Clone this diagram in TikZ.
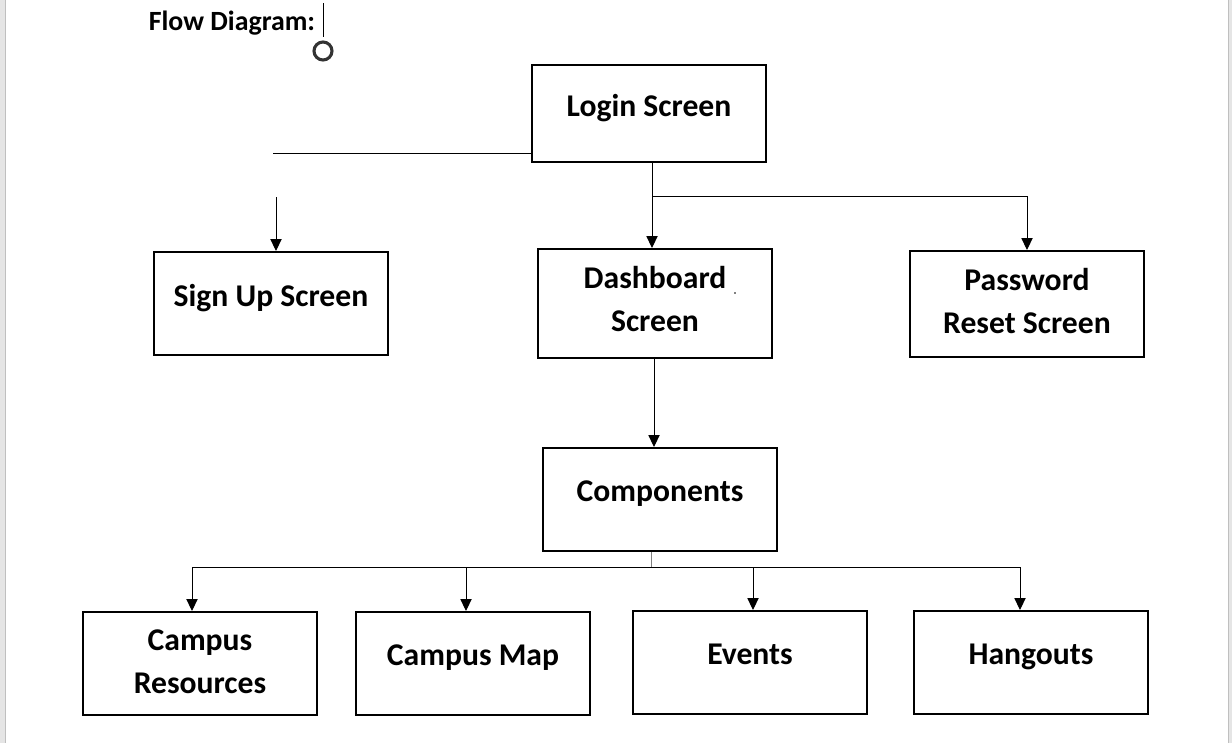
\documentclass[tikz,border=0pt]{standalone}
\usepackage{fontspec}
\setmainfont{Carlito}
\usetikzlibrary{arrows.meta}

\tikzset{
  screen/.style={draw, line width=1.4pt, minimum width=5.85cm, minimum height=2.575cm,
    align=center, font=\fontsize{22.5}{30.5}\selectfont\bfseries},
  oneline/.style={screen, text depth=12pt},
  arr/.style={line width=0.7pt, -{Triangle[width=8pt,length=8.5pt]}},
  link/.style={line width=0.7pt}
}

\begin{document}
\begin{tikzpicture}[x=0.025cm, y=-0.025cm]
\useasboundingbox (0,0) rectangle (1232,743);
% page edges
\fill[gray!20] (0,0) rectangle (5,743);
\fill[gray!20] (1228,0) rectangle (1232,743);
\draw[gray!50, line width=0.5pt] (5,0) -- (5,743);
\draw[gray!50, line width=0.5pt] (1228,0) -- (1228,743);

% title with its marker
\node[font=\fontsize{19.8}{24}\selectfont\bfseries] (title) at (232,23) {Flow Diagram:};
\draw[line width=0.7pt] (323,3) -- (323,37);
\draw[black!80, line width=2.2pt] (323,51) circle (9);

% screens
\node[oneline, minimum height=2.425cm] (login) at (649,113.5) {Login Screen};
\node[oneline] (signup) at (271,303.5) {Sign Up Screen};
\node[screen, minimum height=2.725cm, text depth=7pt] (dash) at (655,303.5) {Dashboard\\Screen};
\node[screen, minimum height=2.65cm, text depth=4pt] (pwd) at (1027,304) {Password\\Reset Screen};
\node[oneline] (comp) at (660,499.5) {Components};
\fill (735,293) circle (0.8);

% components
\node[screen, text depth=3pt] (res) at (200,663.5) {Campus\\Resources};
\node[oneline] (map) at (473,663.5) {Campus Map};
\node[oneline] (events) at (750,662.5) {Events};
\node[oneline] (hang) at (1031,662.5) {Hangouts};

% login branches
\coordinate (stub) at (273,153);
\draw[link] (login.west |- stub) -- (stub);
\coordinate (uptop) at (276,197);
\draw[arr] (uptop) -- (uptop |- signup.north);
\coordinate (split) at (652,196);
\draw[link] (login.south -| split) -- (split);
\draw[arr] (split) -- (split |- dash.north);
\draw[arr] (split) -| (pwd.north);

% dashboard to components
\draw[arr] (dash.south -| 654,0) -- (comp.north -| 654,0);

% components bus
\coordinate (bus) at (651,567);
\draw[gray, line width=0.5pt] (comp.south -| bus) -- (bus);
\foreach \x/\n in {192/res, 466/map, 753/events, 1020/hang}
  \coordinate (d\n) at (\x,567);
\draw[link] (dres) -- (dhang);
\foreach \n in {res, map, events, hang}
  \draw[arr] (d\n) -- (d\n |- \n.north);
\end{tikzpicture}
\end{document}
